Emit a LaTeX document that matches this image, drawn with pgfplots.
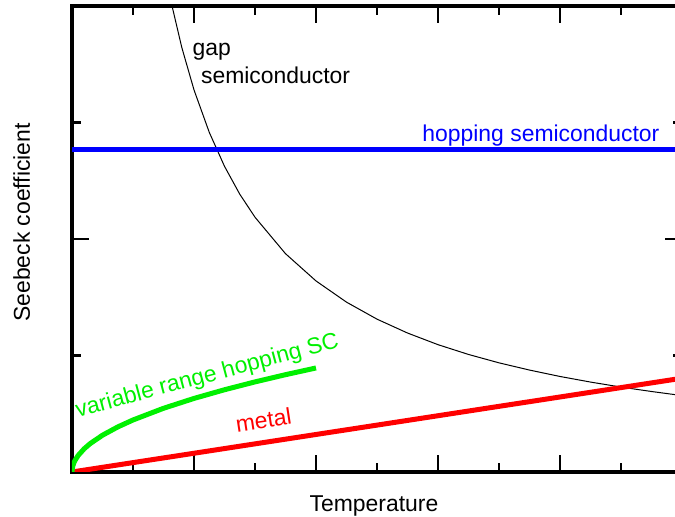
\documentclass[border=0pt]{standalone}
\usepackage{pgfplots}
\pgfplotsset{compat=1.18}
\usepackage{fontspec}
\setmainfont{Liberation Sans}
\definecolor{hopblue}{RGB}{0,0,255}
\definecolor{metred}{RGB}{255,0,0}
\definecolor{vrhgreen}{RGB}{0,240,0}
\begin{document}
\fontsize{11.5}{13.8}\selectfont
\begin{tikzpicture}
\begin{axis}[
  scale only axis, width=305bp, height=233bp,
  xmin=0, xmax=10, ymin=0, ymax=4,
  xtick={0,2,4,6,8,10}, minor xtick={1,3,5,7,9},
  ytick={0,2,4}, minor ytick={1,3},
  xticklabels={\empty}, yticklabels={\empty},
  major tick length=8.5bp, minor tick length=4.5bp,
  every major tick/.style={black, line width=1.4bp},
  every minor tick/.style={black, line width=1.4bp},
  axis line style={black, line width=1.75bp},
  clip mode=individual,
  xlabel={Temperature}, ylabel={Seebeck coefficient},
  xlabel style={at={(axis description cs:0.495,-0.0852)}, anchor=base, inner sep=0pt},
  ylabel style={at={(axis description cs:-0.0689,0.5354)}, anchor=base, inner sep=0pt},
]
% gap semiconductor
\addplot[black, line width=0.5bp, no markers] coordinates {
(1.55,4.232) (1.64,4.0) (1.8,3.644) (2.0,3.28) (2.25,2.916) (2.5,2.624) (2.75,2.385)
(3.0,2.187) (3.5,1.874) (4.0,1.64) (4.5,1.458) (5.0,1.312) (5.5,1.193) (6.0,1.093)
(6.5,1.009) (7.0,0.937) (7.5,0.875) (8.0,0.82) (8.5,0.772) (9.0,0.729) (9.5,0.691) (10.0,0.656)};
% hopping semiconductor
\addplot[hopblue, line width=2.5bp, no markers] coordinates {(0,2.764) (10,2.764)};
% metal
\addplot[metred, line width=2.5bp, no markers] coordinates {(0,0) (10,0.805)};
% variable range hopping
\addplot[vrhgreen, line width=2.5bp, no markers] coordinates {
(0,0) (0.01,0.0447) (0.03,0.0773) (0.05,0.0998) (0.1,0.1412) (0.2,0.1997) (0.3,0.2446)
(0.5,0.3157) (0.75,0.3867) (1.0,0.4465) (1.5,0.5468) (2.0,0.6315) (2.5,0.706)
(3.0,0.7734) (3.5,0.8353) (4.0,0.893)};
\node[hopblue, anchor=base, inner sep=0pt] at (axis cs:7.687,2.835) {hopping semiconductor};
\node[black, anchor=base west, inner sep=0pt] at (axis cs:1.972,3.579) {gap};
\node[black, anchor=base west, inner sep=0pt] at (axis cs:2.110,3.339) {semiconductor};
\node[metred, anchor=base west, inner sep=0pt, rotate=8.7] at (axis cs:2.700,0.341) {metal};
\node[vrhgreen, anchor=base west, inner sep=0pt, rotate=15] at (axis cs:0.090,0.468) {variable range hopping SC};
\end{axis}
\pgfresetboundingbox
\path[use as bounding box] (-36bp,-22.5bp) rectangle (301.5bp,236bp);
\end{tikzpicture}
\end{document}
